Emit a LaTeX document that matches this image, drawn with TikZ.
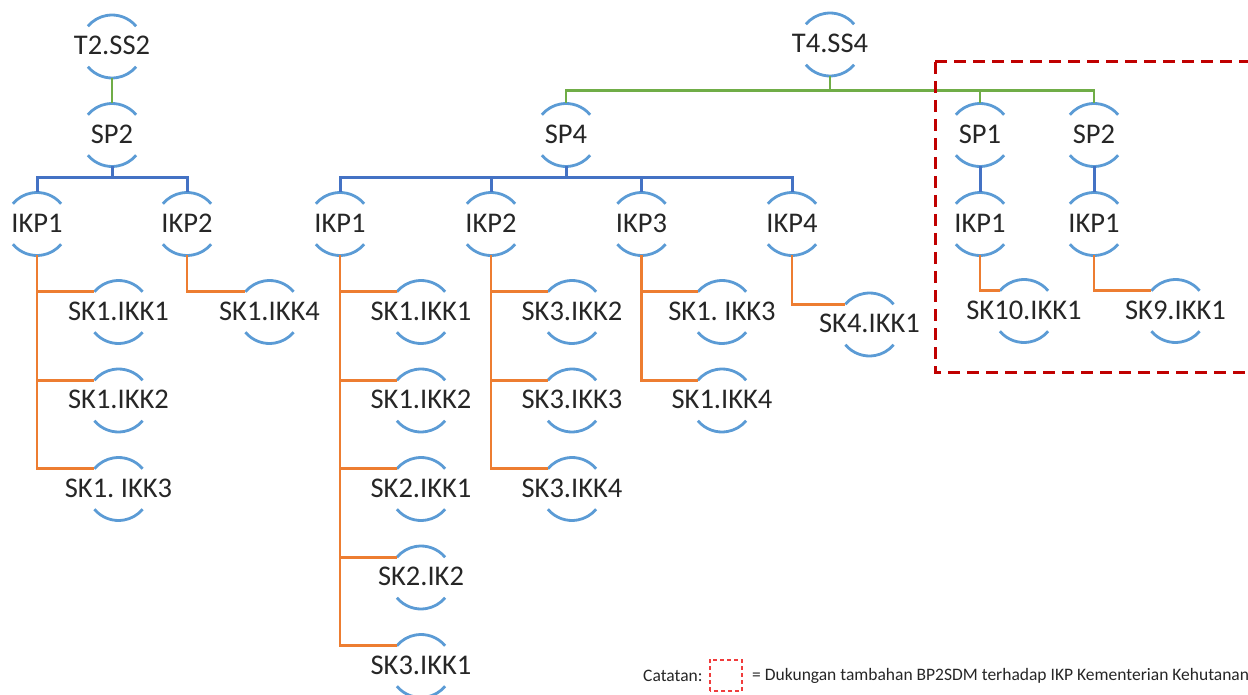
\documentclass[tikz,border=0pt]{standalone}
\usepackage{fontspec}
\setmainfont{Carlito}
\definecolor{arcblue}{HTML}{5B9BD5}
\definecolor{conblue}{HTML}{4472C4}
\definecolor{congreen}{HTML}{70AD47}
\definecolor{conorange}{HTML}{ED7D31}
\definecolor{boxred}{HTML}{C00000}
\definecolor{legred}{HTML}{F03C3C}
\newcommand\mb[1]{\makebox[0pt]{#1}}
\tikzset{
  nd/.style={circle, minimum size=63pt, inner sep=0pt, outer sep=0pt,
    text height=18.4pt, text depth=2pt, text=black!85,
    font=\fontsize{28.5}{34}\selectfont},
  arcst/.style={draw=arcblue, line width=2.8pt},
  gl/.style={draw=congreen, line width=2.8pt},
  bl/.style={draw=conblue, line width=3pt},
  ol/.style={draw=conorange, line width=2.8pt},
  redbox/.style={draw=boxred, line width=3pt, dash pattern=on 12pt off 7pt},
  legbox/.style={draw=legred, line width=1.8pt, dash pattern=on 4pt off 3pt},
  legtext/.style={inner sep=0pt, anchor=west, text=black!85, font=\fontsize{17.5}{20}\selectfont}
}
\begin{document}
\frenchspacing
\begin{tikzpicture}[x=1pt,y=1pt]
\useasboundingbox (0,0) rectangle (1248,-695);

% left tree
\node[nd] (t2) at (112,-46.5) {\mb{T2.SS2}};
\node[nd] (lsp2) at (112,-135) {\mb{SP2}};
\node[nd] (likp1) at (37,-224) {\mb{IKP1}};
\node[nd] (likp2) at (187,-224) {\mb{IKP2}};
\node[nd] (lska) at (118.5,-312) {\mb{SK1.IKK1}};
\node[nd] (lskb) at (118.5,-400.5) {\mb{SK1.IKK2}};
\node[nd] (lskc) at (118.5,-489) {\mb{SK1. IKK3}};
\node[nd] (lskd) at (269.5,-312) {\mb{SK1.IKK4}};

% middle tree
\node[nd] (t4) at (830,-44.5) {\mb{T4.SS4}};
\node[nd] (sp4) at (566,-135) {\mb{SP4}};
\node[nd] (mikp1) at (340,-224) {\mb{IKP1}};
\node[nd] (mikp2) at (491,-224) {\mb{IKP2}};
\node[nd] (mikp3) at (641.5,-224) {\mb{IKP3}};
\node[nd] (mikp4) at (792,-224) {\mb{IKP4}};
\node[nd] (ma) at (421,-312) {\mb{SK1.IKK1}};
\node[nd] (mb) at (421,-400.5) {\mb{SK1.IKK2}};
\node[nd] (mc) at (421,-489) {\mb{SK2.IKK1}};
\node[nd] (md) at (421,-577.5) {\mb{SK2.IK2}};
\node[nd] (me) at (421,-666) {\mb{SK3.IKK1}};
\node[nd] (mf) at (572,-312) {\mb{SK3.IKK2}};
\node[nd] (mg) at (572,-400.5) {\mb{SK3.IKK3}};
\node[nd] (mh) at (572,-489) {\mb{SK3.IKK4}};
\node[nd] (mi) at (722,-312) {\mb{SK1. IKK3}};
\node[nd] (mj) at (722,-400.5) {\mb{SK1.IKK4}};
\node[nd] (mk) at (869.5,-324.5) {\mb{SK4.IKK1}};

% right (dashed) part
\node[nd] (rsp1) at (980,-135) {\mb{SP1}};
\node[nd] (rsp2) at (1094,-135) {\mb{SP2}};
\node[nd] (rikp1) at (980,-224) {\mb{IKP1}};
\node[nd] (rikp2) at (1094,-224) {\mb{IKP1}};
\node[nd] (rska) at (1024,-311) {\mb{SK10.IKK1}};
\node[nd] (rskb) at (1175.5,-311) {\mb{SK9.IKK1}};

% arcs of every node
\foreach \n in {t2,lsp2,likp1,likp2,lska,lskb,lskc,lskd,t4,sp4,mikp1,mikp2,mikp3,mikp4,ma,mb,mc,md,me,mf,mg,mh,mi,mj,mk,rsp1,rsp2,rikp1,rikp2,rska,rskb}{
  \draw[arcst] (\n.40) arc[start angle=40, end angle=140, radius=31.5pt];
  \draw[arcst] (\n.220) arc[start angle=220, end angle=320, radius=31.5pt];
}

% green connectors
\draw[gl] (t2.south) -- (lsp2.north);
\draw[gl] (t4.south) -- ++(0,-14.5) coordinate (gj);
\draw[gl] (gj) -| (sp4.north);
\draw[gl] (gj) -| (rsp1.north);
\draw[gl] (gj) -| (rsp2.north);

% blue connectors
\draw[bl] (lsp2.south) -- ++(0,-11.5) coordinate (bj1);
\draw[bl] (bj1) -| (likp1.north);
\draw[bl] (bj1) -| (likp2.north);
\draw[bl] (sp4.south) -- ++(0,-11.5) coordinate (bj2);
\draw[bl] (bj2) -| (mikp1.north);
\draw[bl] (bj2) -| (mikp2.north);
\draw[bl] (bj2) -| (mikp3.north);
\draw[bl] (bj2) -| (mikp4.north);
\draw[bl] (rsp1.south) -- (rikp1.north);
\draw[bl] (rsp2.south) -- (rikp2.north);

% orange connectors
\foreach \c in {lska,lskb,lskc} \draw[ol] (likp1.south) |- (\c.140);
\draw[ol] (likp2.south) |- (lskd.140);
\foreach \c in {ma,mb,mc,md,me} \draw[ol] (mikp1.south) |- (\c.140);
\foreach \c in {mf,mg,mh} \draw[ol] (mikp2.south) |- (\c.140);
\foreach \c in {mi,mj} \draw[ol] (mikp3.south) |- (\c.140);
\draw[ol] (mikp4.south) |- (mk.140);
\draw[ol] (rikp1.south) |- (rska.140);
\draw[ol] (rikp2.south) |- (rskb.140);

% dashed frame
\draw[redbox] (935,-62) -- (1256,-62) (935,-62) -- (935,-372) -- (1256,-372);

% legend
\node[legtext] (cat) at (643,-676) {Catatan:};
\node[draw=none, minimum width=32pt, minimum height=31pt, inner sep=0pt] (lbox) at (726,-675.5) {};
\draw[legbox] (lbox.south west) rectangle (lbox.north east);
\node[legtext] (leg) at (752,-676) {= Dukungan tambahan BP2SDM terhadap IKP Kementerian Kehutanan};
\end{tikzpicture}
\end{document}
